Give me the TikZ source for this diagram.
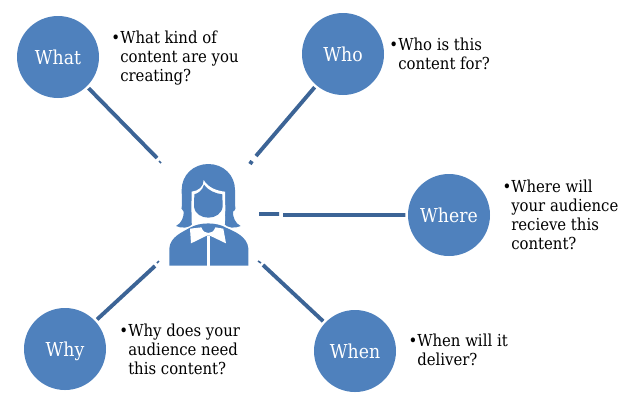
\documentclass[tikz,border=0pt]{standalone}
\usepackage{fontspec}
\setmainfont{DejaVu Serif Condensed}
\definecolor{bluefill}{HTML}{4F81BD}
\definecolor{blueline}{HTML}{3C6496}
\tikzset{
 wd/.style={circle,fill=bluefill,text=white,inner sep=0pt,minimum size=61.5pt,outer sep=2pt,text depth=0pt,font=\fontsize{14.4}{16}\selectfont},
 nt/.style={anchor=north west,inner sep=0pt,align=left,font=\fontsize{12.4}{14.1}\selectfont},
 ln/.style={draw=blueline,line width=2.9pt},
 tn/.style={draw=blueline,line width=1.2pt},
 ic/.style={fill=bluefill},
 wt/.style={fill=white}}
\begin{document}
\begin{tikzpicture}[x=0.75pt,y=-0.75pt]
 \useasboundingbox (0,0) rectangle (641,401);
 % circles
 \node[wd] (what) at (58,57) {What};
 \node[wd] (who) at (343,54) {Who};
 \node[wd] (where) at (449,215) {Where};
 \node[wd] (why) at (65,349) {Why};
 \node[wd] (when) at (355,351) {When};
 % texts
 \node[nt] (twhat) at (120,31) {\llap{\textbullet}What kind of\\content are you\\creating?};
 \node[nt] (twho) at (398,38) {\llap{\textbullet}Who is this\\content for?};
 \node[nt] (twhere) at (511,180) {\llap{\textbullet}Where will\\your audience\\recieve this\\content?};
 \node[nt] (twhy) at (128,324) {\llap{\textbullet}Why does your\\audience need\\this content?};
 \node[nt] (twhen) at (417,334) {\llap{\textbullet}When will it\\deliver?};
 % ends of the lines
 \coordinate (a1) at (157,158);
 \coordinate (a2) at (159,161);
 \coordinate (a3) at (161,163);
 \coordinate (b1) at (256,156);
 \coordinate (b2) at (252,161);
 \coordinate (b3) at (250,164);
 \coordinate (c1) at (283,215);
 \coordinate (c2) at (279,214);
 \coordinate (c3) at (259,214);
 \coordinate (d1) at (155,266);
 \coordinate (d2) at (157,263);
 \coordinate (d3) at (159,261);
 \coordinate (e1) at (263,265);
 \coordinate (e2) at (261,263);
 \coordinate (e3) at (258,261);
 \draw[ln] (what)--(a1) (who)--(b1) (where)--(c1) (c2)--(c3) (why)--(d1) (when)--(e1);
 \draw[tn] (a2)--(a3) (d2)--(d3) (e2)--(e3);
 \draw[ln] (b2)--(b3);
 % person
 \begin{scope}[shift={(140,140)},x=0.25pt,y=-0.25pt]
  \fill[ic] (108,258) .. controls (125,250) and (132,230) .. (131,215)
   .. controls (123,210) and (123,200) .. (126,195) -- (125,150)
   .. controls (125,105) and (160,72) .. (205,72)
   .. controls (250,72) and (285,105) .. (285,150) -- (285,195)
   .. controls (288,200) and (288,210) .. (279,215)
   .. controls (278,230) and (285,250) .. (302,258)
   .. controls (285,266) and (262,265) .. (250,250) -- (160,250)
   .. controls (148,265) and (125,266) .. (108,258) -- cycle;
  \fill[wt] (191,120) .. controls (192,140) and (175,153) .. (155,155)
   -- (154,210) .. controls (157,230) and (152,245) .. (158,262) -- (252,262)
   .. controls (258,245) and (253,230) .. (256,210) -- (255,155)
   .. controls (235,153) and (205,145) .. (191,120) -- cycle;
  \fill[ic] (192,134) .. controls (188,150) and (175,160) .. (163,163)
   -- (162,200) .. controls (165,222) and (185,233) .. (205,233)
   .. controls (225,233) and (245,222) .. (248,200) -- (247,163)
   .. controls (225,160) and (205,152) .. (192,134) -- cycle;
  \fill[ic] (88,377) -- (88,325) .. controls (90,290) and (130,275) .. (150,263)
   .. controls (180,246) and (230,246) .. (258,263)
   .. controls (285,275) and (322,290) .. (325,325) -- (325,377) -- cycle;
  \fill[wt] (150,266) -- (153,310) -- (200,287) -- (210,287) -- (258,310) -- (250,266)
   -- (226,262) .. controls (222,275) and (212,279) .. (205,279)
   .. controls (198,279) and (188,275) .. (184,262) -- cycle;
  \fill[wt] (201,287) rectangle (210,380);
 \end{scope}
\end{tikzpicture}
\end{document}
